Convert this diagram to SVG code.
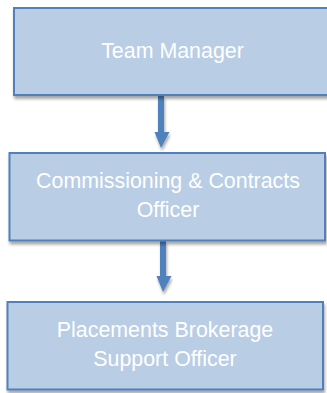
<svg xmlns="http://www.w3.org/2000/svg" width="327" height="393" viewBox="0 0 327 393">
  <style>
    .box { fill: #B9CDE5; stroke: #4F81BD; stroke-width: 2; filter: url(#shadow); }
    .label { fill: #FFFFFF; font-family: "Liberation Sans", Arial, sans-serif; font-size: 21.4px; text-anchor: middle; }
    .link { fill: #4F81BD; filter: url(#shadow); }
  </style>
  <defs>
    <filter id="shadow" x="-10%" y="-10%" width="120%" height="130%">
      <feGaussianBlur in="SourceAlpha" stdDeviation="1.5"/>
      <feOffset dx="1" dy="3" result="blur"/>
      <feComponentTransfer><feFuncA type="linear" slope="0.35"/></feComponentTransfer>
      <feMerge><feMergeNode/><feMergeNode in="SourceGraphic"/></feMerge>
    </filter>
  </defs>
  <rect width="327" height="393" fill="#FFFFFF"/>

  <g id="connectors">
    <path class="link" d="M158,96 H164 V132 H169.5 L161,148 L154.5,132 H158 Z"/>
    <path class="link" d="M160,241 H166 V276 H171.5 L163,292 L156.5,276 H160 Z"/>
  </g>

  <g id="team-manager">
    <rect class="box" x="14" y="8" width="316" height="87"/>
    <text class="label" x="172.5" y="58">Team Manager</text>
  </g>

  <g id="commissioning-contracts-officer">
    <rect class="box" x="9.5" y="153" width="315.5" height="87.5"/>
    <text class="label" x="168" y="188">Commissioning &amp; Contracts</text>
    <text class="label" x="168" y="216.5">Officer</text>
  </g>

  <g id="placements-brokerage-support-officer">
    <rect class="box" x="7.5" y="302" width="315.5" height="87.5"/>
    <text class="label" x="165" y="336.5">Placements Brokerage</text>
    <text class="label" x="165" y="365.5">Support Officer</text>
  </g>
</svg>
